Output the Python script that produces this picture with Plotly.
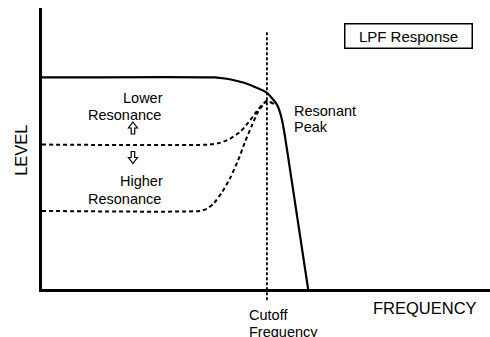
import plotly.graph_objects as go

# Frequency / level points of the low-pass response curves (arbitrary units 0-100)
base_freq = [0, 38.6, 40.8, 43.1, 45.3, 47.5, 49.1, 50.2, 51.3, 52.5, 53.3, 54.0, 54.7, 59.4]
base_level = [75.3, 75.3, 74.9, 74.2, 73.3, 71.9, 70.8, 69.8, 68.0, 65.5, 61.9, 56.6, 49.5, 0]

lower_freq = [0, 37.5, 39.7, 41.9, 44.2, 46.0, 47.5, 48.7, 49.6, 50.2, 50.9, 51.8]
lower_level = [51.4, 51.4, 52.0, 53.4, 55.9, 59.1, 62.3, 64.8, 66.2, 66.9, 66.5, 65.8]

higher_freq = [0, 35.3, 36.8, 38.4, 40.2, 42.0, 43.8, 45.3, 46.9, 48.2, 49.3, 50.2, 51.1, 51.8]
higher_level = [27.8, 27.8, 28.5, 30.6, 34.5, 39.5, 45.9, 52.3, 58.4, 63.0, 65.5, 66.9, 66.5, 65.8]

cutoff_freq = 50.2

FONT = "Liberation Sans, Arial, Helvetica, sans-serif"
W, H = 490, 337
M_L, M_R, M_T, M_B = 42, 0, 8, 48
PLOT_W = W - M_L - M_R
PLOT_H = H - M_T - M_B

fig = go.Figure()

fig.add_trace(go.Scatter(x=base_freq, y=base_level, mode="lines",
                         line=dict(color="black", width=2.2, shape="spline", smoothing=0.6),
                         hoverinfo="skip", showlegend=False))
fig.add_trace(go.Scatter(x=lower_freq, y=lower_level, mode="lines",
                         line=dict(color="black", width=2, dash="4px,3px", shape="spline", smoothing=0.6),
                         hoverinfo="skip", showlegend=False))
fig.add_trace(go.Scatter(x=higher_freq, y=higher_level, mode="lines",
                         line=dict(color="black", width=2, dash="4px,3px", shape="spline", smoothing=0.6),
                         hoverinfo="skip", showlegend=False))

# Cutoff frequency marker, extending below the frequency axis
fig.add_shape(type="line", xref="x", yref="paper", x0=cutoff_freq, x1=cutoff_freq,
              y0=-0.04, y1=0.915, line=dict(color="black", width=1.8, dash="3px,2px"))


def hollow_arrow(cx, cy, up=True, length=12, head_w=9, head_len=6, shaft_w=3.5):
    """Outlined block arrow centred at (cx, cy) in paper units; sizes in pixels."""
    sx, sy = 1.0 / PLOT_W, 1.0 / PLOT_H
    d = 1 if up else -1
    tip = cy + d * length / 2 * sy
    base = cy - d * length / 2 * sy
    neck = tip - d * head_len * sy
    hw, sw = head_w / 2 * sx, shaft_w / 2 * sx
    pts = [(cx, tip), (cx + hw, neck), (cx + sw, neck), (cx + sw, base),
           (cx - sw, base), (cx - sw, neck), (cx - hw, neck)]
    path = "M " + " L ".join(f"{x:.5f},{y:.5f}" for x, y in pts) + " Z"
    fig.add_shape(type="path", xref="paper", yref="paper", path=path,
                  line=dict(color="black", width=1.2), fillcolor="white")


def label(text, x, y, size=14.5, xanchor="center", ref="x", **kw):
    fig.add_annotation(text=text, x=x, y=y, xref="paper" if ref == "paper" else "x",
                       yref="paper" if ref == "paper" else "y",
                       showarrow=False, xanchor=xanchor, yanchor="middle",
                       font=dict(family=FONT, size=size, color="black"), **kw)


label("Lower", 22.5, 67.8)
label("Resonance", 18.5, 61.9)
hollow_arrow(0.203, 0.573, up=True)
hollow_arrow(0.203, 0.468, up=False)
label("Higher", 22.1, 38.4)
label("Resonance", 18.5, 32.0)
label("Resonant", 55.8, 63.3, xanchor="left")
label("Peak", 55.8, 57.7, xanchor="left")

label("LPF Response", 0.819, 0.902, size=15, ref="paper",
      bordercolor="black", borderwidth=1.5, borderpad=1, width=124, height=21)
label("FREQUENCY", 0.856, -0.066, size=16.5, ref="paper")
label("Cutoff", 0.458, -0.093, size=14.5, xanchor="left", ref="paper")
label("Frequency", 0.458, -0.153, size=14.5, xanchor="left", ref="paper")
label("LEVEL", -0.047, 0.495, size=16.5, ref="paper", textangle=-90)

axis_style = dict(showline=True, linewidth=3, linecolor="black", showgrid=False,
                  zeroline=False, showticklabels=False, ticks="", fixedrange=True)

fig.update_layout(
    width=W, height=H,
    margin=dict(l=M_L, r=M_R, t=M_T, b=M_B),
    paper_bgcolor="white", plot_bgcolor="white",
    xaxis=dict(range=[0, 100], **axis_style),
    yaxis=dict(range=[0, 100], **axis_style),
    showlegend=False,
)

fig.write_html("out.html")
